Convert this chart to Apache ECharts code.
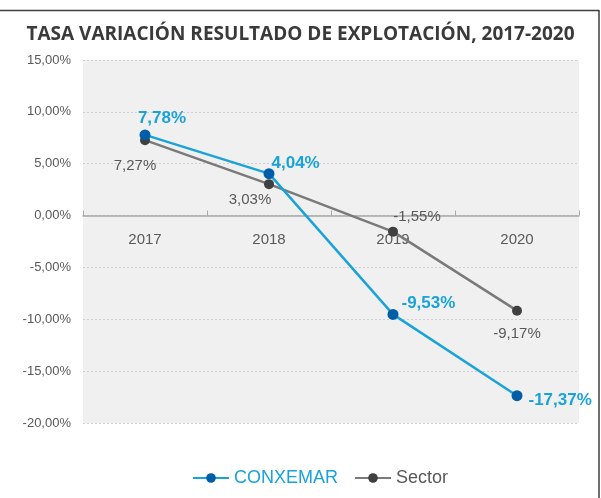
<!DOCTYPE html>
<html><head><meta charset="utf-8">
<script src="https://cdn.jsdelivr.net/npm/echarts@6/dist/echarts.min.js"></script>
<style>html,body{margin:0;padding:0;background:#fff}#c{width:601px;height:498px}</style>
</head><body><div id="c"></div>
<script>
const categories = ['2017', '2018', '2019', '2020'];
const conxemar = [7.78, 4.04, -9.53, -17.37];
const sector = [7.27, 3.03, -1.55, -9.17];
const yMin = -20, yMax = 15, yStep = 5;
const titleText = 'TASA VARIACIÓN RESULTADO DE EXPLOTACIÓN, 2017-2020';

const fmt = v => v.toFixed(2).replace('.', ',') + '%';
const cxPos = [
  {position: 'top', offset: [17, 2]},
  {position: 'right', offset: [-8, -10]},
  {position: 'right', offset: [-2, -11]},
  {position: 'right', offset: [1, 5]}
];
const sePos = [
  {position: 'bottom', offset: [-10, 8]},
  {position: 'bottom', offset: [-19, -2]},
  {position: 'top', offset: [24, 3]},
  {position: 'bottom', offset: [0, 6]}
];

const gridTop = 60, gridBottom = 75, H = 498;
const gridH = H - gridTop - gridBottom;
const zeroOffset = -gridH * (0 - yMin) / (yMax - yMin);

const chart = echarts.init(document.getElementById('c'), null, {renderer: 'canvas'});
chart.setOption({
  animation: false,
  backgroundColor: '#fff',
  graphic: [
    {type: 'line', shape: {x1: 0, y1: 10.5, x2: 599, y2: 10.5}, style: {stroke: '#3f3f3f', lineWidth: 1.5}, z: 100},
    {type: 'line', shape: {x1: 599, y1: 10, x2: 599, y2: 498}, style: {stroke: '#3f3f3f', lineWidth: 1.5}, z: 100}
  ],
  title: {
    text: titleText, left: 'center', top: 20,
    textStyle: {fontFamily: 'Open Sans', fontWeight: 'bold', fontSize: 19, color: '#3a3a3a'}
  },
  legend: {
    bottom: 6, left: 187, itemWidth: 36, itemHeight: 12, itemGap: 16,
    data: [
      {name: 'CONXEMAR', textStyle: {color: '#1aa3d8', fontSize: 18, fontFamily: 'Liberation Sans'}},
      {name: 'Sector', textStyle: {color: '#595959', fontSize: 18, fontFamily: 'Liberation Sans'}}
    ]
  },
  grid: {left: 83, right: 22, top: gridTop, bottom: gridBottom, show: true, backgroundColor: '#f0f0f0', borderWidth: 0},
  xAxis: {
    type: 'category', data: categories, boundaryGap: true, position: 'bottom', offset: zeroOffset,
    axisLine: {onZero: false, lineStyle: {color: '#a6a6a6', width: 1.5}},
    axisTick: {show: true, inside: true, length: 5, interval: 0, lineStyle: {color: '#a6a6a6'}},
    axisLabel: {color: '#595959', fontSize: 15, fontFamily: 'Liberation Sans', margin: 17},
    splitLine: {show: false}
  },
  yAxis: {
    type: 'value', min: yMin, max: yMax, interval: yStep,
    axisLine: {show: false}, axisTick: {show: false},
    axisLabel: {color: '#595959', fontSize: 13, fontFamily: 'Liberation Sans', margin: 12,
      formatter: v => v.toFixed(2).replace('.', ',') + '%'},
    splitLine: {show: true, lineStyle: {color: '#cfcfcf', type: [2, 2], width: 1}}
  },
  series: [
    {
      name: 'Sector', type: 'line', z: 2,
      data: sector.map((v, i) => ({value: v, label: Object.assign({show: true}, sePos[i])})),
      symbol: 'circle', symbolSize: 10,
      lineStyle: {color: '#7a7a7a', width: 2.5},
      itemStyle: {color: '#404040'},
      label: {formatter: p => fmt(p.value), color: '#595959', fontSize: 15, fontFamily: 'Liberation Sans'}
    },
    {
      name: 'CONXEMAR', type: 'line', z: 3,
      data: conxemar.map((v, i) => ({value: v, label: Object.assign({show: true}, cxPos[i])})),
      symbol: 'circle', symbolSize: 11,
      lineStyle: {color: '#1aa3d8', width: 2.5},
      itemStyle: {color: '#005ea8'},
      label: {formatter: p => fmt(p.value), color: '#1aa3d8', fontSize: 17, fontWeight: 'bold', fontFamily: 'Liberation Sans'}
    }
  ]
});
</script></body></html>
